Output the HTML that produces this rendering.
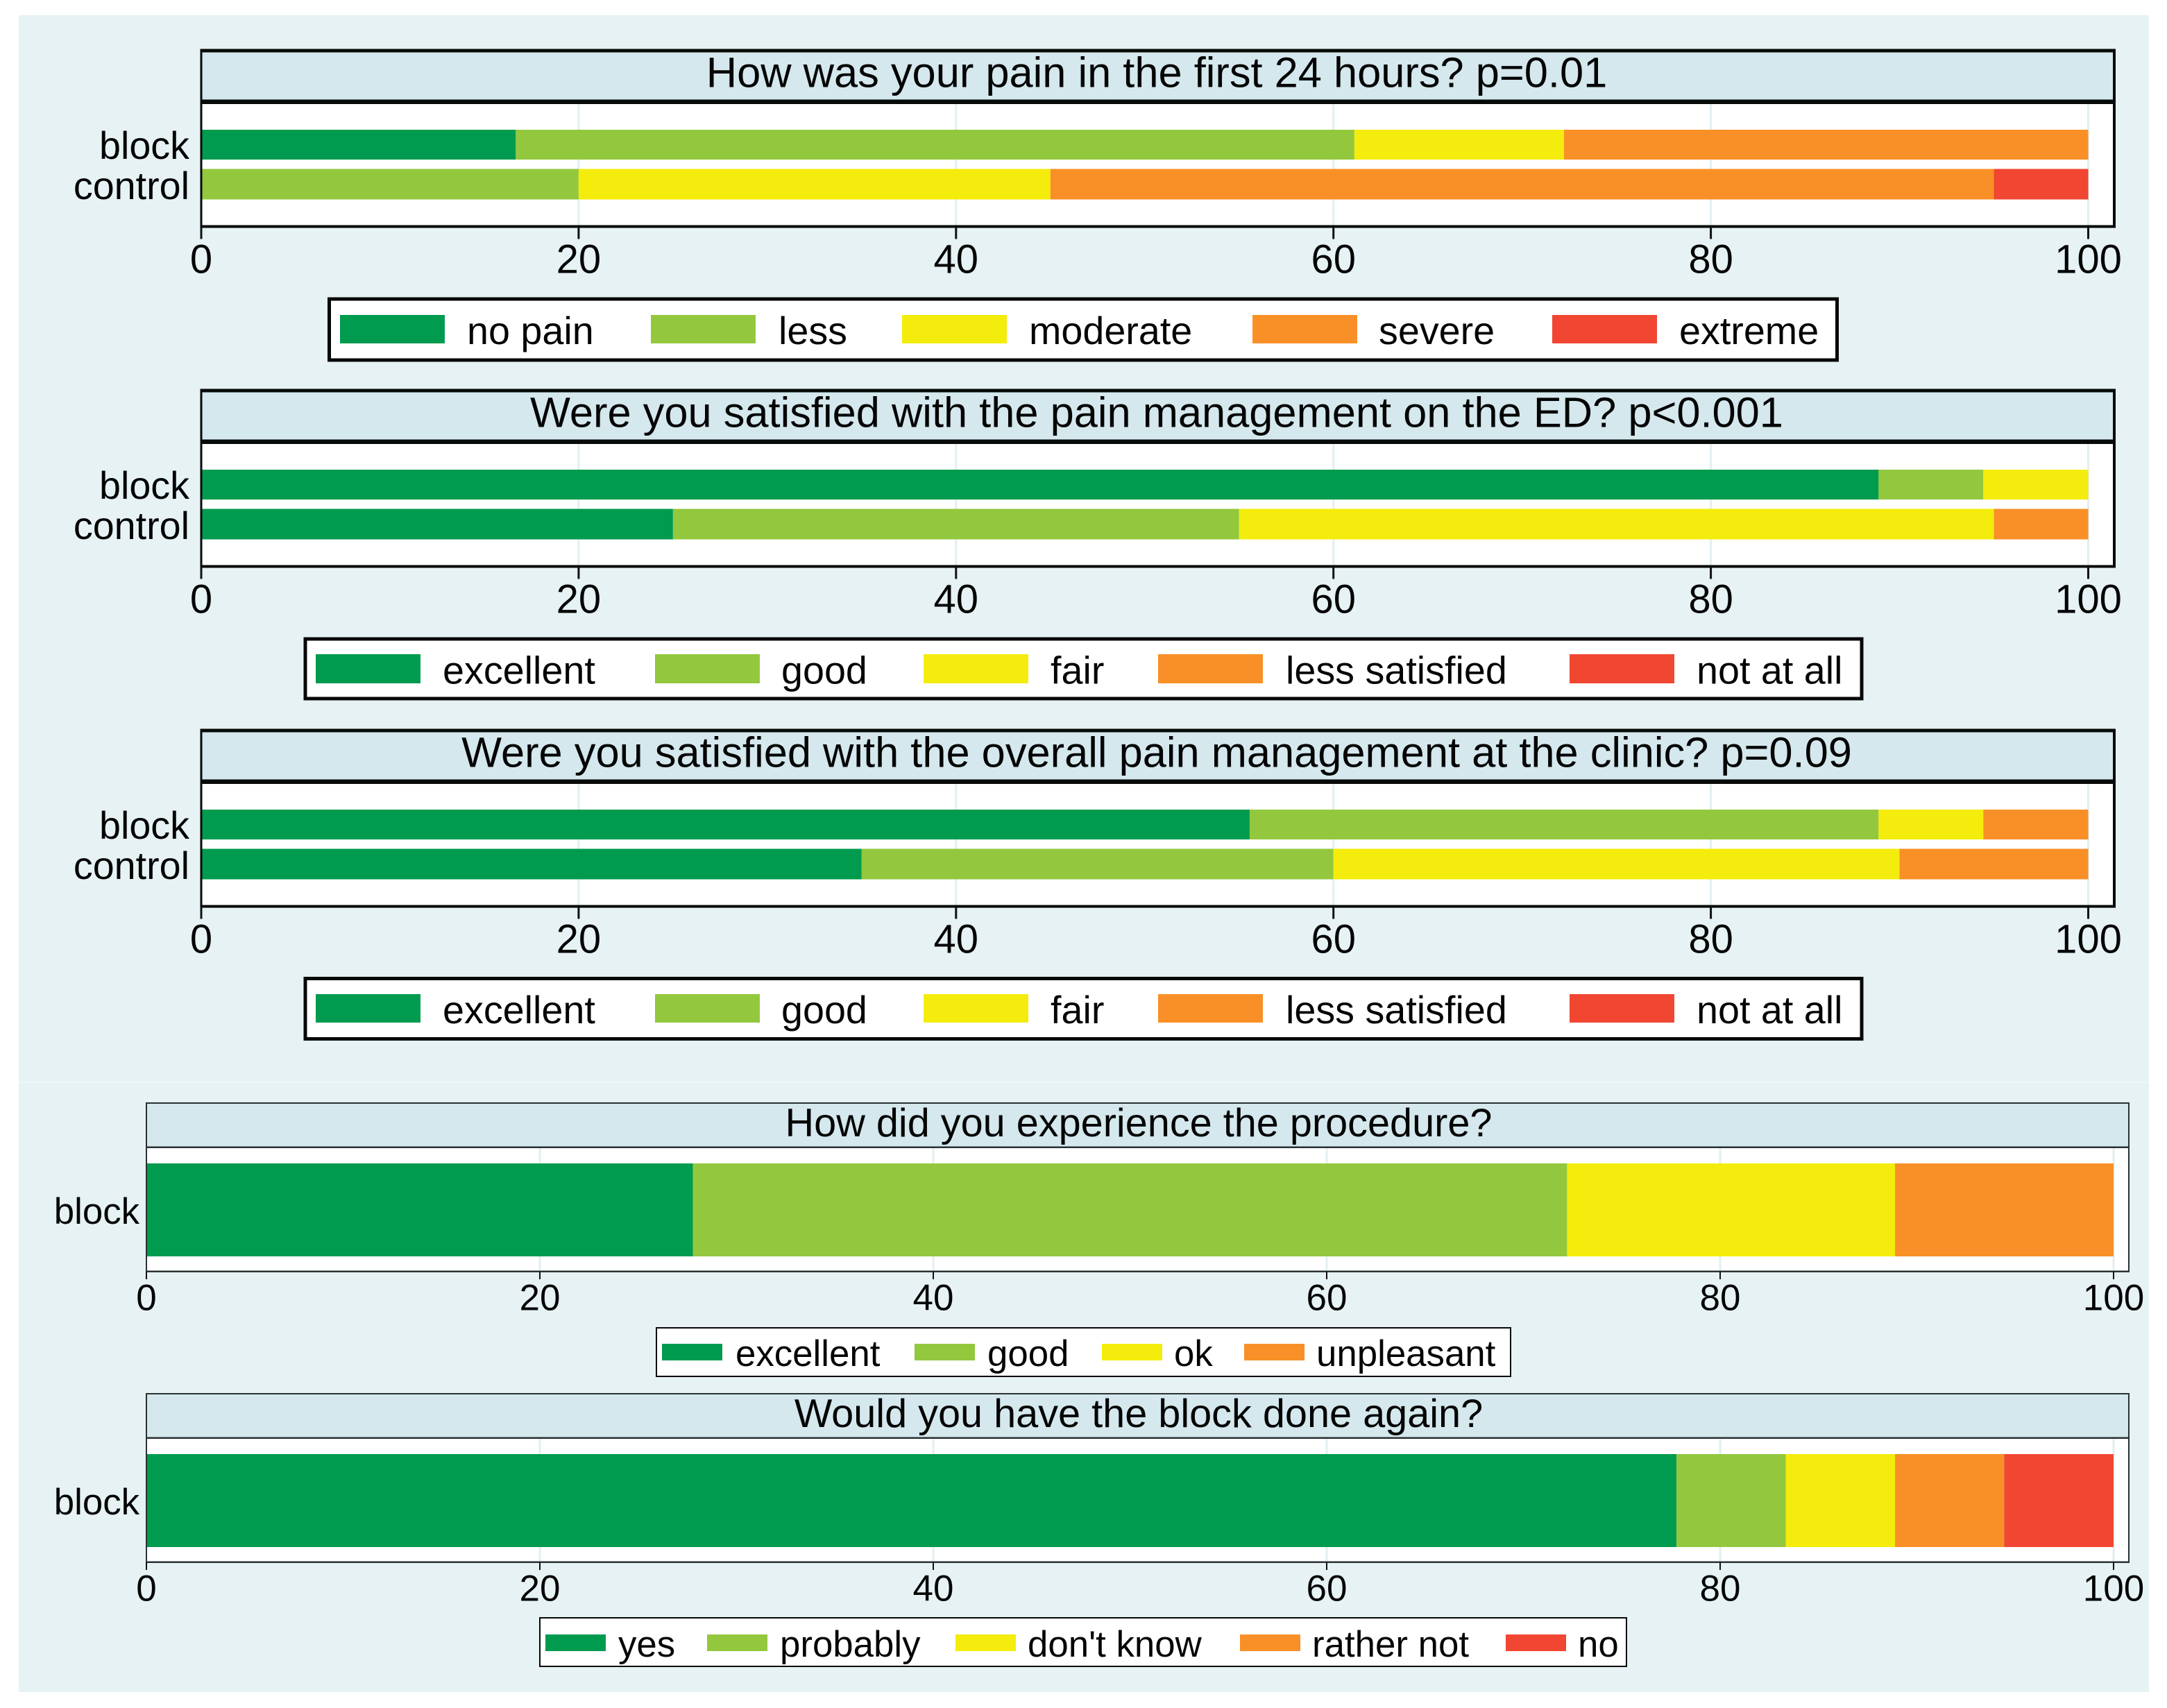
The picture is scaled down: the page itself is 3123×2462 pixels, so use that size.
<!DOCTYPE html>
<html lang="en">
<head>
<meta charset="utf-8">
<title>Patient-reported pain and satisfaction: block vs control</title>
<style>
html,body{margin:0;padding:0;background:#fff;}
svg{display:block;}
text{font-family:"Liberation Sans",Arial,sans-serif;fill:#050505;}
</style>
</head>
<body>
<svg id="chart" xmlns="http://www.w3.org/2000/svg" width="3123" height="2462" viewBox="0 0 3123 2462">
  <rect x="27" y="22" width="3070" height="2417" fill="#E6F2F3"/>
  <rect x="27" y="1559" width="3070" height="2" fill="#EEF6F6"/>
</svg>
<script>
// ----- Chart data (percent of respondents) -----
const tickValues = [0, 20, 40, 60, 80, 100];
const tickLabels = ['0', '20', '40', '60', '80', '100'];
const groupsTwo = ['block', 'control'];
const groupsOne = ['block'];

const titlePain = 'How was your pain in the first 24 hours? p=0.01';
const titleEd = 'Were you satisfied with the pain management on the ED? p<0.001';
const titleClinic = 'Were you satisfied with the overall pain management at the clinic? p=0.09';
const titleProcedure = 'How did you experience the procedure?';
const titleAgain = 'Would you have the block done again?';

const legendPain = ['no pain', 'less', 'moderate', 'severe', 'extreme'];
const legendSatisfied = ['excellent', 'good', 'fair', 'less satisfied', 'not at all'];
const legendProcedure = ['excellent', 'good', 'ok', 'unpleasant'];
const legendAgain = ['yes', 'probably', "don't know", 'rather not', 'no'];

const painBlock = [16.67, 44.44, 11.11, 27.78, 0];
const painControl = [0, 20, 25, 50, 5];
const edBlock = [88.89, 5.55, 5.56, 0, 0];
const edControl = [25, 30, 40, 5, 0];
const clinicBlock = [55.56, 33.33, 5.55, 5.56, 0];
const clinicControl = [35, 25, 30, 10, 0];
const procedureBlock = [27.78, 44.44, 16.67, 11.11];
const againBlock = [77.78, 5.56, 5.55, 5.55, 5.56];

const seriesColors = ['#009B4E', '#93C83E', '#F4EC0C', '#F99027', '#F04632'];

// ----- Drawing helpers -----
const svg = document.getElementById('chart');
const NS = 'http://www.w3.org/2000/svg';

function rect(parent, x, y, w, h, fill) {
  const el = document.createElementNS(NS, 'rect');
  el.setAttribute('x', x);
  el.setAttribute('y', y);
  el.setAttribute('width', Math.max(0, w));
  el.setAttribute('height', h);
  el.setAttribute('fill', fill);
  parent.appendChild(el);
  return el;
}
function label(parent, str, x, y, size, anchor) {
  const el = document.createElementNS(NS, 'text');
  el.setAttribute('x', x);
  el.setAttribute('y', y);
  el.setAttribute('font-size', size);
  el.setAttribute('text-anchor', anchor || 'start');
  el.textContent = str;
  parent.appendChild(el);
  return el;
}
function slug(s) {
  return s.toLowerCase().replace(/[^a-z0-9]+/g, '-');
}

function drawPanel(cfg) {
  const g = document.createElementNS(NS, 'g');
  
  
  svg.appendChild(g);

  const xAxis = v => cfg.x0 + v * (cfg.x100 - cfg.x0) / 100;

  // plot area
  const plot = rect(g, cfg.left, cfg.headTop, cfg.right - cfg.left, cfg.plotBottom - cfg.headTop, '#FFFFFF');
  
  

  // gridlines
  tickValues.forEach(v => {
    if (v === 0) return;
    const grid = rect(g, xAxis(v) - 1.5, cfg.headBottom, 3, cfg.plotBottom - cfg.headBottom, '#E2EFF2');
    
    
  });

  // stacked bars
  cfg.groups.forEach((group, gi) => {
    const values = cfg.values[gi];
    let cum = 0;
    values.forEach((val, si) => {
      const start = xAxis(cum);
      cum += val;
      const end = xAxis(cum);
      const bar = rect(g, start, cfg.barTop[gi], end - start, cfg.barBottom[gi] - cfg.barTop[gi], seriesColors[si]);
      
      
    });
    const cat = label(g, group, cfg.catRight, cfg.catBase[gi], cfg.font, 'end');
    
    
  });

  // title strip
  const strip = rect(g, cfg.left, cfg.headTop, cfg.right - cfg.left, cfg.headBottom - cfg.headTop, '#D4E8ED');
  
  
  const bw = cfg.border;
  [[cfg.left, cfg.headTop, cfg.right - cfg.left, bw.top],
   [cfg.left, cfg.headBottom - bw.head, cfg.right - cfg.left, bw.head],
   [cfg.left, cfg.plotBottom - bw.bottom, cfg.right - cfg.left, bw.bottom],
   [cfg.left - bw.left / 2, cfg.headTop, bw.left, cfg.plotBottom - cfg.headTop],
   [cfg.right - bw.right, cfg.headTop, bw.right, cfg.plotBottom - cfg.headTop]].forEach((b, i) => {
    const line = rect(g, b[0], b[1], b[2], b[3], cfg.lineColor);
    
    
  });
  const ttl = label(g, cfg.title, cfg.titleX, cfg.titleBase, cfg.titleFont, 'middle');
  
  

  // ticks
  tickValues.forEach((v, i) => {
    const tick = rect(g, xAxis(v) - cfg.tickW / 2, cfg.plotBottom - 1, cfg.tickW, cfg.tickLen + 1, '#111111');
    
    
    const tl = label(g, tickLabels[i], xAxis(v), cfg.tickBase, cfg.tickFont, 'middle');
    
    
  });

  // legend
  const L = cfg.legendBox;
  const box = rect(g, L.x, L.y, L.w, L.h, '#FFFFFF');
  box.setAttribute('stroke', '#080808');
  box.setAttribute('stroke-width', L.sw);
  
  
  cfg.legend.forEach((name, i) => {
    const sw = rect(g, L.swatchX[i], L.swatchY, L.swatchW, L.swatchH, seriesColors[i]);
    
    
    const lt = label(g, name, L.textX[i], L.textBase, cfg.font);
    
    
  });
}

const upperBorder = {top: 5, head: 6.5, bottom: 4, left: 3, right: 4};
const lowerBorder = {top: 2, head: 2.5, bottom: 2.5, left: 2, right: 2};

function upperPanel(name, title, legend, block, control, dy, legendBox) {
  drawPanel({
    name, title, legend, groups: groupsTwo, values: [block, control],
    x0: 290, x100: 3009.5, left: 290, right: 3049,
    headTop: 70.5 + dy, headBottom: 150 + dy, plotBottom: 328.5 + dy,
    barTop: [187 + dy, 243.5 + dy], barBottom: [230 + dy, 287.5 + dy],
    catRight: 273, catBase: [229 + dy, 287 + dy],
    titleX: 1667, titleBase: 125.5 + dy, titleFont: 61.4,
    tickBase: 393.5 + dy, tickFont: 58, font: 55.7, tickW: 3, tickLen: 16,
    border: upperBorder, lineColor: '#060A08',
    legendBox
  });
}
function lowerPanel(name, title, legend, block, dy, legendBox) {
  drawPanel({
    name, title, legend, groups: groupsOne, values: [block],
    x0: 211, x100: 3046, left: 211, right: 3069,
    headTop: 1589 + dy, headBottom: 1655 + dy, plotBottom: 1834 + dy,
    barTop: [1677 + dy], barBottom: [1811 + dy],
    catRight: 201, catBase: [1764 + dy],
    titleX: 1641, titleBase: 1638 + dy, titleFont: 57.65,
    tickBase: 1888.5 + dy, tickFont: 53, font: 52.8, tickW: 2, tickLen: 10,
    border: lowerBorder, lineColor: '#2A3234',
    legendBox
  });
}

upperPanel('pain-24h', titlePain, legendPain, painBlock, painControl, 0, {
  x: 474.5, y: 431, w: 2173, h: 88, sw: 5,
  swatchX: [490, 938, 1300, 1805, 2237], swatchY: 454, swatchW: 151, swatchH: 41,
  textX: [673, 1122, 1483, 1987, 2420], textBase: 496
});
upperPanel('ed-satisfaction', titleEd, legendSatisfied, edBlock, edControl, 490, {
  x: 440, y: 921, w: 2243, h: 86, sw: 5,
  swatchX: [455, 944, 1331, 1669, 2262], swatchY: 943, swatchW: 151, swatchH: 42,
  textX: [638, 1126, 1514, 1853, 2445], textBase: 985.5
});
upperPanel('clinic-satisfaction', titleClinic, legendSatisfied, clinicBlock, clinicControl, 980, {
  x: 440, y: 1410.5, w: 2243, h: 87, sw: 5,
  swatchX: [455, 944, 1331, 1669, 2262], swatchY: 1433, swatchW: 151, swatchH: 41,
  textX: [638, 1126, 1514, 1853, 2445], textBase: 1475
});
lowerPanel('procedure-experience', titleProcedure, legendProcedure, procedureBlock, 0, {
  x: 946, y: 1914, w: 1231, h: 70, sw: 2,
  swatchX: [954, 1318, 1588, 1793], swatchY: 1937, swatchW: 87, swatchH: 24,
  textX: [1060, 1423, 1692, 1897], textBase: 1969
});
lowerPanel('block-again', titleAgain, legendAgain, againBlock, 419, {
  x: 778, y: 2332, w: 1566, h: 70, sw: 2,
  swatchX: [786, 1019, 1377, 1787, 2170], swatchY: 2356, swatchW: 87, swatchH: 24,
  textX: [891, 1124, 1481, 1891, 2274], textBase: 2388
});
</script>
</body>
</html>
